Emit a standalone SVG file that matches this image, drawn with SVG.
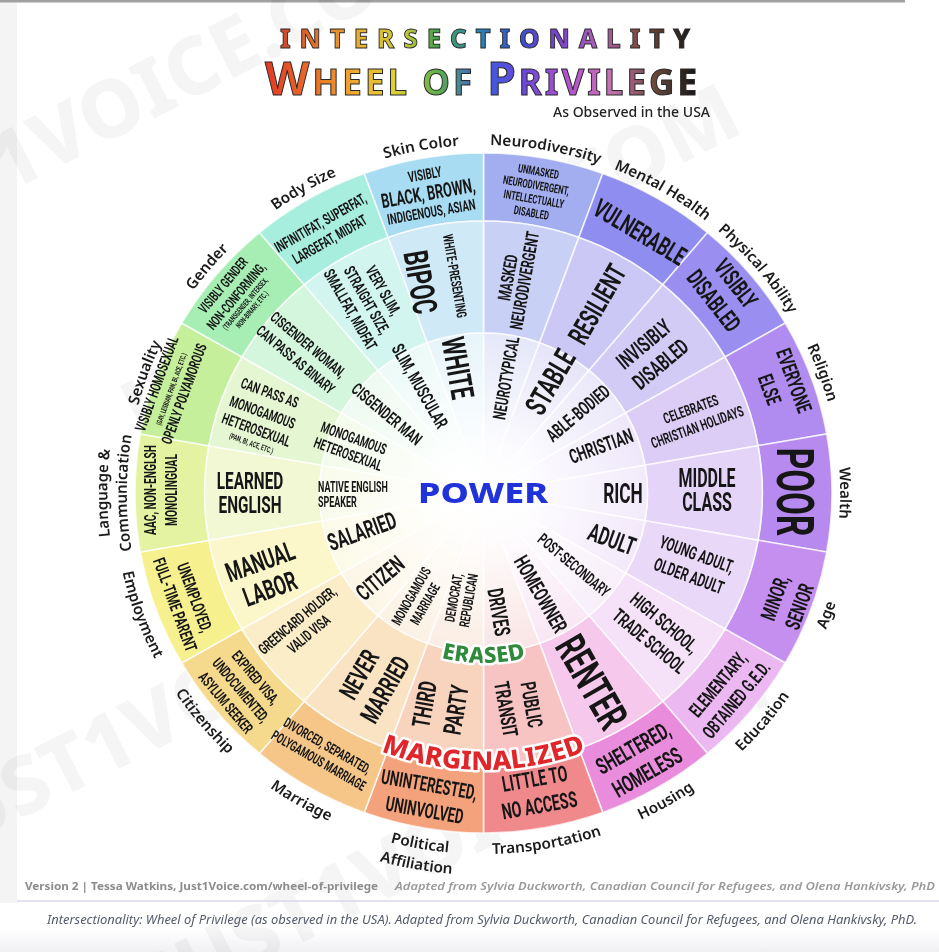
<svg xmlns="http://www.w3.org/2000/svg" width="939" height="952" viewBox="0 0 939 952">
<defs>
  <style>
    .cat{font-family:"Noto Sans","Open Sans",sans-serif;font-size:15px;font-weight:600;fill:#1b1b1b;text-anchor:middle}
    .lb text{font-family:Roboto,"Liberation Sans",sans-serif;font-weight:700;fill:#161616;text-anchor:middle}
    .sec path{stroke:#ffffff;stroke-width:1.6;stroke-opacity:.75}
    .lvl{font-family:"Noto Sans","Open Sans",sans-serif;font-weight:800;text-anchor:middle;stroke:#ffffff;stroke-width:5;stroke-linejoin:round;paint-order:stroke}
    .wm{font-family:"Noto Sans",sans-serif;font-weight:800;font-size:80px;fill:#000}
  </style>
  <radialGradient id="glow" gradientUnits="userSpaceOnUse" cx="0" cy="0" r="160">
    <stop offset="0" stop-color="#fff" stop-opacity="1"/>
    <stop offset=".3" stop-color="#fff" stop-opacity=".9"/>
    <stop offset=".65" stop-color="#fff" stop-opacity=".5"/>
    <stop offset="1" stop-color="#fff" stop-opacity=".1"/>
  </radialGradient>
  <linearGradient id="rb1" gradientUnits="userSpaceOnUse" x1="280" y1="0" x2="690" y2="0">
    <stop offset="0" stop-color="#c9452c"/>
    <stop offset=".1" stop-color="#e5782c"/>
    <stop offset=".2" stop-color="#e9b232"/>
    <stop offset=".3" stop-color="#c9cc38"/>
    <stop offset=".38" stop-color="#4aa24a"/>
    <stop offset=".48" stop-color="#2a86b0"/>
    <stop offset=".58" stop-color="#3850cc"/>
    <stop offset=".68" stop-color="#7a42cc"/>
    <stop offset=".78" stop-color="#b060b4"/>
    <stop offset=".88" stop-color="#7a4a3a"/>
    <stop offset="1" stop-color="#1c1c1c"/>
  </linearGradient>
  <linearGradient id="rb2" gradientUnits="userSpaceOnUse" x1="265" y1="0" x2="697" y2="0">
    <stop offset="0" stop-color="#e23a26"/>
    <stop offset=".12" stop-color="#ea7428"/>
    <stop offset=".22" stop-color="#f0b030"/>
    <stop offset=".3" stop-color="#dcd034"/>
    <stop offset=".4" stop-color="#5cb048"/>
    <stop offset=".5" stop-color="#3a5cdc"/>
    <stop offset=".6" stop-color="#6a48da"/>
    <stop offset=".7" stop-color="#b452d2"/>
    <stop offset=".8" stop-color="#c672b2"/>
    <stop offset=".9" stop-color="#6a4a3a"/>
    <stop offset="1" stop-color="#141414"/>
  </linearGradient>
  <linearGradient id="foot" x1="0" y1="0" x2="0" y2="1">
    <stop offset="0" stop-color="#ffffff"/>
    <stop offset="1" stop-color="#f0f0f3"/>
  </linearGradient>
  <!-- baseline circles for the category names and the level words -->
  <path id="arcTop" d="M0,348 A348,348 0 1 1 0,-348 A348,348 0 1 1 0,348"/>
  <path id="arcTop2" d="M0,367 A367,367 0 1 1 0,-367 A367,367 0 1 1 0,367"/>
  <path id="arcBot" d="M0,-361 A361,361 0 1 0 0,361 A361,361 0 1 0 0,-361"/>
  <path id="arcBot2" d="M0,-382 A382,382 0 1 0 0,382 A382,382 0 1 0 0,-382"/>
  <path id="arcErased" d="M0,-170 A170,170 0 1 0 0,170 A170,170 0 1 0 0,-170"/>
  <path id="arcMarg" d="M0,-277 A277,277 0 1 0 0,277 A277,277 0 1 0 0,-277"/>
</defs>

<rect width="939" height="952" fill="#ffffff"/>
<rect x="0" y="0" width="17" height="903" fill="#f4f4f4"/>
<rect x="0" y="0" width="905" height="2.5" fill="#a0a0a0"/>
<rect x="0" y="930" width="939" height="22" fill="url(#foot)"/>

<!-- faint site watermark -->
<g id="watermark" opacity=".04">
  <text class="wm" transform="translate(-153 275) rotate(-27)">JUST1VOICE.COM</text>
  <text class="wm" transform="translate(140 440) rotate(-27)">JUST1VOICE.COM</text>
  <text class="wm" transform="translate(170 1010) rotate(-27)">JUST1VOICE.COM</text>
  <text class="wm" transform="translate(-60 860) rotate(-27)">JUST1VOICE.COM</text>
</g>

<!-- title -->
<g id="title">
  <text x="280" y="48" font-family="'Noto Sans',sans-serif" font-size="26" font-weight="800" fill="url(#rb1)" stroke="#2a2a2a" stroke-width=".9" textLength="410" lengthAdjust="spacing">INTERSECTIONALITY</text>
  <text x="265" y="95" font-family="'Noto Sans',sans-serif" font-weight="700" fill="url(#rb2)" stroke="#2a2a2a" stroke-width="1" textLength="432" lengthAdjust="spacing"><tspan font-size="46">W</tspan><tspan font-size="35">HEEL OF </tspan><tspan font-size="46">P</tspan><tspan font-size="35">RIVILEGE</tspan></text>
  <text x="710" y="117" text-anchor="end" font-family="'Noto Sans',sans-serif" font-size="14" font-weight="500" fill="#222">As Observed in the USA</text>
</g>

<!-- wheel sectors: outer, middle, inner ring of each category -->
<g id="wheel" transform="translate(483.5 493) scale(1.025 1)">
  <g id="seg-neurodiversity" class="sec">
    <path fill="#a2aef0" d="M0,-340 A340,340 0 0 1 116.29,-319.5 L93.03,-255.6 A272,272 0 0 0 0,-272Z"/>
    <path fill="#c9d0f5" d="M0,-272 A272,272 0 0 1 93.03,-255.6 L54.72,-150.35 A160,160 0 0 0 0,-160Z"/>
    <path fill="#e2e5f8" d="M0,0 L0,-160 A160,160 0 0 1 54.72,-150.35Z"/>
    <text class="cat"><textPath href="#arcTop" startOffset="52.78%">Neurodiversity</textPath></text>
  </g>
  <g id="seg-mental-health" class="sec">
    <path fill="#8f8df0" d="M116.29,-319.5 A340,340 0 0 1 218.55,-260.45 L174.84,-208.36 A272,272 0 0 0 93.03,-255.6Z"/>
    <path fill="#cbc8f5" d="M93.03,-255.6 A272,272 0 0 1 174.84,-208.36 L102.85,-122.57 A160,160 0 0 0 54.72,-150.35Z"/>
    <path fill="#e3e1f7" d="M0,0 L54.72,-150.35 A160,160 0 0 1 102.85,-122.57Z"/>
    <text class="cat"><textPath href="#arcTop" startOffset="58.33%">Mental Health</textPath></text>
  </g>
  <g id="seg-physical-ability" class="sec">
    <path fill="#9a8ef0" d="M218.55,-260.45 A340,340 0 0 1 294.45,-170 L235.56,-136 A272,272 0 0 0 174.84,-208.36Z"/>
    <path fill="#d2cbf6" d="M174.84,-208.36 A272,272 0 0 1 235.56,-136 L138.56,-80 A160,160 0 0 0 102.85,-122.57Z"/>
    <path fill="#e9e5f9" d="M0,0 L102.85,-122.57 A160,160 0 0 1 138.56,-80Z"/>
    <text class="cat"><textPath href="#arcTop" startOffset="63.89%">Physical Ability</textPath></text>
  </g>
  <g id="seg-religion" class="sec">
    <path fill="#b08cf0" d="M294.45,-170 A340,340 0 0 1 334.84,-59.04 L267.87,-47.23 A272,272 0 0 0 235.56,-136Z"/>
    <path fill="#dccdf7" d="M235.56,-136 A272,272 0 0 1 267.87,-47.23 L157.57,-27.78 A160,160 0 0 0 138.56,-80Z"/>
    <path fill="#ece4fa" d="M0,0 L138.56,-80 A160,160 0 0 1 157.57,-27.78Z"/>
    <text class="cat"><textPath href="#arcTop" startOffset="69.44%">Religion</textPath></text>
  </g>
  <g id="seg-wealth" class="sec">
    <path fill="#b78af0" d="M334.84,-59.04 A340,340 0 0 1 334.84,59.04 L267.87,47.23 A272,272 0 0 0 267.87,-47.23Z"/>
    <path fill="#e4d4f8" d="M267.87,-47.23 A272,272 0 0 1 267.87,47.23 L157.57,27.78 A160,160 0 0 0 157.57,-27.78Z"/>
    <path fill="#f0e8fb" d="M0,0 L157.57,-27.78 A160,160 0 0 1 157.57,27.78Z"/>
    <text class="cat"><textPath href="#arcTop" startOffset="75%">Wealth</textPath></text>
  </g>
  <g id="seg-age" class="sec">
    <path fill="#c58ff0" d="M334.84,59.04 A340,340 0 0 1 294.45,170 L235.56,136 A272,272 0 0 0 267.87,47.23Z"/>
    <path fill="#ead8f8" d="M267.87,47.23 A272,272 0 0 1 235.56,136 L138.56,80 A160,160 0 0 0 157.57,27.78Z"/>
    <path fill="#f1e6fa" d="M0,0 L157.57,27.78 A160,160 0 0 1 138.56,80Z"/>
    <text class="cat"><textPath href="#arcBot" startOffset="69.44%">Age</textPath></text>
  </g>
  <g id="seg-education" class="sec">
    <path fill="#ebb8f2" d="M294.45,170 A340,340 0 0 1 218.55,260.45 L174.84,208.36 A272,272 0 0 0 235.56,136Z"/>
    <path fill="#f6e2f8" d="M235.56,136 A272,272 0 0 1 174.84,208.36 L102.85,122.57 A160,160 0 0 0 138.56,80Z"/>
    <path fill="#f7edf9" d="M0,0 L138.56,80 A160,160 0 0 1 102.85,122.57Z"/>
    <text class="cat"><textPath href="#arcBot" startOffset="63.89%">Education</textPath></text>
  </g>
  <g id="seg-housing" class="sec">
    <path fill="#ea8cdc" d="M218.55,260.45 A340,340 0 0 1 116.29,319.5 L93.03,255.6 A272,272 0 0 0 174.84,208.36Z"/>
    <path fill="#f5c8ec" d="M174.84,208.36 A272,272 0 0 1 93.03,255.6 L54.72,150.35 A160,160 0 0 0 102.85,122.57Z"/>
    <path fill="#f8e4f3" d="M0,0 L102.85,122.57 A160,160 0 0 1 54.72,150.35Z"/>
    <text class="cat"><textPath href="#arcBot" startOffset="58.33%">Housing</textPath></text>
  </g>
  <g id="seg-transportation" class="sec">
    <path fill="#f0898c" d="M116.29,319.5 A340,340 0 0 1 0,340 L0,272 A272,272 0 0 0 93.03,255.6Z"/>
    <path fill="#f7c3c3" d="M93.03,255.6 A272,272 0 0 1 0,272 L0,160 A160,160 0 0 0 54.72,150.35Z"/>
    <path fill="#f9e2e2" d="M0,0 L54.72,150.35 A160,160 0 0 1 0,160Z"/>
    <text class="cat"><textPath href="#arcBot" startOffset="52.78%">Transportation</textPath></text>
  </g>
  <g id="seg-political-affiliation" class="sec">
    <path fill="#f4a27c" d="M0,340 A340,340 0 0 1 -116.29,319.5 L-93.03,255.6 A272,272 0 0 0 0,272Z"/>
    <path fill="#f8d3bd" d="M0,272 A272,272 0 0 1 -93.03,255.6 L-54.72,150.35 A160,160 0 0 0 0,160Z"/>
    <path fill="#faebe0" d="M0,0 L0,160 A160,160 0 0 1 -54.72,150.35Z"/>
    <text class="cat"><textPath href="#arcBot" startOffset="47.22%">Political</textPath></text>
    <text class="cat"><textPath href="#arcBot2" startOffset="47.22%">Affiliation</textPath></text>
  </g>
  <g id="seg-marriage" class="sec">
    <path fill="#f5c687" d="M-116.29,319.5 A340,340 0 0 1 -218.55,260.45 L-174.84,208.36 A272,272 0 0 0 -93.03,255.6Z"/>
    <path fill="#f9e3c3" d="M-93.03,255.6 A272,272 0 0 1 -174.84,208.36 L-102.85,122.57 A160,160 0 0 0 -54.72,150.35Z"/>
    <path fill="#fbf0e1" d="M0,0 L-54.72,150.35 A160,160 0 0 1 -102.85,122.57Z"/>
    <text class="cat"><textPath href="#arcBot" startOffset="41.67%">Marriage</textPath></text>
  </g>
  <g id="seg-citizenship" class="sec">
    <path fill="#f5d98c" d="M-218.55,260.45 A340,340 0 0 1 -294.45,170 L-235.56,136 A272,272 0 0 0 -174.84,208.36Z"/>
    <path fill="#fbedc8" d="M-174.84,208.36 A272,272 0 0 1 -235.56,136 L-138.56,80 A160,160 0 0 0 -102.85,122.57Z"/>
    <path fill="#fcf5e3" d="M0,0 L-102.85,122.57 A160,160 0 0 1 -138.56,80Z"/>
    <text class="cat"><textPath href="#arcBot" startOffset="36.11%">Citizenship</textPath></text>
  </g>
  <g id="seg-employment" class="sec">
    <path fill="#f7f08e" d="M-294.45,170 A340,340 0 0 1 -334.84,59.04 L-267.87,47.23 A272,272 0 0 0 -235.56,136Z"/>
    <path fill="#fbf7cb" d="M-235.56,136 A272,272 0 0 1 -267.87,47.23 L-157.57,27.78 A160,160 0 0 0 -138.56,80Z"/>
    <path fill="#fcfae6" d="M0,0 L-138.56,80 A160,160 0 0 1 -157.57,27.78Z"/>
    <text class="cat"><textPath href="#arcBot" startOffset="30.56%">Employment</textPath></text>
  </g>
  <g id="seg-language" class="sec">
    <path fill="#e4f3a2" d="M-334.84,59.04 A340,340 0 0 1 -334.84,-59.04 L-267.87,-47.23 A272,272 0 0 0 -267.87,47.23Z"/>
    <path fill="#f2f8d3" d="M-267.87,47.23 A272,272 0 0 1 -267.87,-47.23 L-157.57,-27.78 A160,160 0 0 0 -157.57,27.78Z"/>
    <path fill="#f8fbe9" d="M0,0 L-157.57,27.78 A160,160 0 0 1 -157.57,-27.78Z"/>
    <text class="cat"><textPath href="#arcTop2" startOffset="25%">Language &amp;</textPath></text>
    <text class="cat"><textPath href="#arcTop" startOffset="25%">Communication</textPath></text>
  </g>
  <g id="seg-sexuality" class="sec">
    <path fill="#c6ef9c" d="M-334.84,-59.04 A340,340 0 0 1 -294.45,-170 L-235.56,-136 A272,272 0 0 0 -267.87,-47.23Z"/>
    <path fill="#e5f7d2" d="M-267.87,-47.23 A272,272 0 0 1 -235.56,-136 L-138.56,-80 A160,160 0 0 0 -157.57,-27.78Z"/>
    <path fill="#f2fbe9" d="M0,0 L-157.57,-27.78 A160,160 0 0 1 -138.56,-80Z"/>
    <text class="cat"><textPath href="#arcTop" startOffset="30.56%">Sexuality</textPath></text>
  </g>
  <g id="seg-gender" class="sec">
    <path fill="#a6eeb4" d="M-294.45,-170 A340,340 0 0 1 -218.55,-260.45 L-174.84,-208.36 A272,272 0 0 0 -235.56,-136Z"/>
    <path fill="#d4f6dd" d="M-235.56,-136 A272,272 0 0 1 -174.84,-208.36 L-102.85,-122.57 A160,160 0 0 0 -138.56,-80Z"/>
    <path fill="#ecfaf0" d="M0,0 L-138.56,-80 A160,160 0 0 1 -102.85,-122.57Z"/>
    <text class="cat"><textPath href="#arcTop" startOffset="36.11%">Gender</textPath></text>
  </g>
  <g id="seg-body-size" class="sec">
    <path fill="#a8eede" d="M-218.55,-260.45 A340,340 0 0 1 -116.29,-319.5 L-93.03,-255.6 A272,272 0 0 0 -174.84,-208.36Z"/>
    <path fill="#d2f6ef" d="M-174.84,-208.36 A272,272 0 0 1 -93.03,-255.6 L-54.72,-150.35 A160,160 0 0 0 -102.85,-122.57Z"/>
    <path fill="#eafaf7" d="M0,0 L-102.85,-122.57 A160,160 0 0 1 -54.72,-150.35Z"/>
    <text class="cat"><textPath href="#arcTop" startOffset="41.67%">Body Size</textPath></text>
  </g>
  <g id="seg-skin-color" class="sec">
    <path fill="#a8dcf2" d="M-116.29,-319.5 A340,340 0 0 1 0,-340 L0,-272 A272,272 0 0 0 -93.03,-255.6Z"/>
    <path fill="#cfeaf6" d="M-93.03,-255.6 A272,272 0 0 1 0,-272 L0,-160 A160,160 0 0 0 -54.72,-150.35Z"/>
    <path fill="#e4f3f9" d="M0,0 L-54.72,-150.35 A160,160 0 0 1 0,-160Z"/>
    <text class="cat"><textPath href="#arcTop" startOffset="47.22%">Skin Color</textPath></text>
  </g>
  <!-- white bloom over the centre disc -->
  <circle r="160" fill="url(#glow)"/>
</g>

<!-- ring texts, one group per category -->
<g id="labels" class="lb">
  <g id="lbl-skin-color">
    <g transform="translate(428 193) rotate(-10) scale(.64 1)"><text y="-13.7" font-size="15">VISIBLY</text><text y="7.1" font-size="20">BLACK, BROWN,</text><text y="24.3" font-size="15">INDIGENOUS, ASIAN</text></g>
    <g transform="translate(455 276) rotate(80) scale(.64 1)"><text y="5" font-size="14">WHITE-PRESENTING</text><text y="47" font-size="34">BIPOC</text></g>
    <g transform="translate(458 368) rotate(80) scale(.64 1)"><text y="11.4" font-size="32">WHITE</text></g>
  </g>
  <g id="lbl-neurodiversity">
    <g transform="translate(535 192) rotate(10) scale(.64 1)"><text y="-16.7" font-size="12">UNMASKED</text><text y="-2.7" font-size="12">NEURODIVERGENT,</text><text y="11.3" font-size="12">INTELLECTUALLY</text><text y="25.3" font-size="12">DISABLED</text></g>
    <g transform="translate(516 279) rotate(-80) scale(.64 1)"><text y="-2.1" font-size="18">MASKED</text><text y="14.9" font-size="18">NEURODIVERGENT</text></g>
    <g transform="translate(506 378) rotate(-80) scale(.64 1)"><text y="6.4" font-size="18">NEUROTYPICAL</text></g>
  </g>
  <g id="lbl-mental-health">
    <g transform="translate(640 232) rotate(31) scale(.64 1)"><text y="9.2" font-size="26">VULNERABLE</text></g>
    <g transform="translate(597 304) rotate(-60) scale(.64 1)"><text y="10" font-size="28">RESILIENT</text></g>
    <g transform="translate(550 382) rotate(-60) scale(.64 1)"><text y="10.7" font-size="30">STABLE</text></g>
  </g>
  <g id="lbl-physical-ability">
    <g transform="translate(725 292) rotate(52) scale(.64 1)"><text y="-5.5" font-size="24">VISIBLY</text><text y="22.5" font-size="24">DISABLED</text></g>
    <g transform="translate(652 354) rotate(-40) scale(.64 1)"><text y="-5.2" font-size="22">INVISIBLY</text><text y="20.8" font-size="22">DISABLED</text></g>
    <g transform="translate(578 413) rotate(-40) scale(.64 1)"><text y="6.7" font-size="19">ABLE-BODIED</text></g>
  </g>
  <g id="lbl-religion">
    <g transform="translate(782 385) rotate(70) scale(.64 1)"><text y="-5.5" font-size="21">EVERYONE</text><text y="20.5" font-size="21">ELSE</text></g>
    <g transform="translate(694 418) rotate(-20) scale(.64 1)"><text y="-4.2" font-size="15">CELEBRATES</text><text y="14.8" font-size="15">CHRISTIAN HOLIDAYS</text></g>
    <g transform="translate(601 446) rotate(-20) scale(.64 1)"><text y="7.1" font-size="20">CHRISTIAN</text></g>
  </g>
  <g id="lbl-wealth">
    <g transform="translate(796 492) rotate(90) scale(.64 1)"><text y="18.5" font-size="52">POOR</text></g>
    <g transform="translate(707 490) scale(.64 1)"><text y="-3.1" font-size="25">MIDDLE</text><text y="20.9" font-size="25">CLASS</text></g>
    <g transform="translate(623 493) scale(.64 1)"><text y="9.6" font-size="27">RICH</text></g>
  </g>
  <g id="lbl-age">
    <g transform="translate(787 602) rotate(-70) scale(.64 1)"><text y="-5.5" font-size="21">MINOR,</text><text y="20.5" font-size="21">SENIOR</text></g>
    <g transform="translate(693 565) rotate(20) scale(.64 1)"><text y="-5.1" font-size="18">YOUNG ADULT,</text><text y="17.9" font-size="18">OLDER ADULT</text></g>
    <g transform="translate(612 539) rotate(20) scale(.64 1)"><text y="8.9" font-size="25">ADULT</text></g>
  </g>
  <g id="lbl-education">
    <g transform="translate(727 692) rotate(-50) scale(.64 1)"><text y="-5.3" font-size="19">ELEMENTARY,</text><text y="18.7" font-size="19">OBTAINED G.E.D.</text></g>
    <g transform="translate(657 632) rotate(40) scale(.64 1)"><text y="-5.3" font-size="19">HIGH SCHOOL,</text><text y="18.7" font-size="19">TRADE SCHOOL</text></g>
    <g transform="translate(574 565) rotate(40) scale(.64 1)"><text y="5.7" font-size="16">POST-SECONDARY</text></g>
  </g>
  <g id="lbl-housing">
    <g transform="translate(640 760) rotate(-30) scale(.64 1)"><text y="-5.8" font-size="23">SHELTERED,</text><text y="22.2" font-size="23">HOMELESS</text></g>
    <g transform="translate(592 682) rotate(60) scale(.64 1)"><text y="14.9" font-size="42">RENTER</text></g>
    <g transform="translate(541 594) rotate(60) scale(.64 1)"><text y="7.5" font-size="21">HOMEOWNER</text></g>
  </g>
  <g id="lbl-transportation">
    <g transform="translate(537 792) rotate(-10) scale(.64 1)"><text y="-5.7" font-size="22">LITTLE TO</text><text y="21.3" font-size="22">NO ACCESS</text></g>
    <g transform="translate(519 707) rotate(80) scale(.64 1)"><text y="-5.5" font-size="21">PUBLIC</text><text y="20.5" font-size="21">TRANSIT</text></g>
    <g transform="translate(499 612) rotate(80) scale(.64 1)"><text y="7.8" font-size="22">DRIVES</text></g>
  </g>
  <g id="lbl-political-affiliation">
    <g transform="translate(427 797) rotate(10) scale(.64 1)"><text y="-5.5" font-size="20.5">UNINTERESTED,</text><text y="20.5" font-size="20.5">UNINVOLVED</text></g>
    <g transform="translate(440 707) rotate(-80) scale(.64 1)"><text y="-7.1" font-size="25">THIRD</text><text y="24.9" font-size="25">PARTY</text></g>
    <g transform="translate(461 599) rotate(-80) scale(.64 1)"><text y="-2.5" font-size="14">DEMOCRAT,</text><text y="12.5" font-size="14">REPUBLICAN</text></g>
  </g>
  <g id="lbl-marriage">
    <g transform="translate(323 753) rotate(30) scale(.64 1)"><text y="-3.5" font-size="14">DIVORCED, SEPARATED,</text><text y="13.5" font-size="14">POLYGAMOUS MARRIAGE</text></g>
    <g transform="translate(372 682) rotate(-60) scale(.64 1)"><text y="-5.8" font-size="26">NEVER</text><text y="24.2" font-size="26">MARRIED</text></g>
    <g transform="translate(418 600) rotate(-60) scale(.64 1)"><text y="-3" font-size="14">MONOGAMOUS</text><text y="13" font-size="14">MARRIAGE</text></g>
  </g>
  <g id="lbl-citizenship">
    <g transform="translate(241 690) rotate(50) scale(.64 1)"><text y="-14" font-size="15">EXPIRED VISA,</text><text y="5.5" font-size="15">UNDOCUMENTED,</text><text y="25" font-size="15">ASYLUM SEEKER</text></g>
    <g transform="translate(303 627) rotate(-40) scale(.64 1)"><text y="-3.7" font-size="15">GREENCARD HOLDER,</text><text y="14.3" font-size="15">VALID VISA</text></g>
    <g transform="translate(380 578) rotate(-40) scale(.64 1)"><text y="8.2" font-size="23">CITIZEN</text></g>
  </g>
  <g id="lbl-employment">
    <g transform="translate(185 601) rotate(70) scale(.64 1)"><text y="-4.5" font-size="17">UNEMPLOYED,</text><text y="16.5" font-size="17">FULL-TIME PARENT</text></g>
    <g transform="translate(265 575) rotate(-20) scale(.64 1)"><text y="-4.9" font-size="27">MANUAL</text><text y="24.1" font-size="27">LABOR</text></g>
    <g transform="translate(362 531) rotate(-20) scale(.64 1)"><text y="8.5" font-size="24">SALARIED</text></g>
  </g>
  <g id="lbl-language">
    <g transform="translate(161 490) rotate(-90) scale(.64 1)"><text y="-4.8" font-size="16">AAC, NON-ENGLSH</text><text y="16.2" font-size="16">MONOLINGUAL</text></g>
    <g transform="translate(250 490) scale(.64 1)"><text y="-1" font-size="24">LEARNED</text><text y="23" font-size="24">ENGLISH</text></g>
    <g transform="translate(318 0) scale(.64 1)"><text x="0" y="492" font-size="14" style="text-anchor:start">NATIVE ENGLISH</text><text x="0" y="507" font-size="14" style="text-anchor:start">SPEAKER</text></g>
  </g>
  <g id="lbl-sexuality">
    <g transform="translate(171 389) rotate(-70) scale(.64 1)"><text y="-10" font-size="15">VISIBLY HOMOSEXUAL</text><text y="3" font-size="7.5">(GAY, LESBIAN, PAN, BI, ACE, ETC.)</text><text y="19" font-size="15">OPENLY POLYAMOROUS</text></g>
    <g transform="translate(262 414) rotate(20) scale(.64 1)"><text y="-17.4" font-size="15">CAN PASS AS</text><text y="3.4" font-size="15">MONOGAMOUS</text><text y="22" font-size="15">HETEROSEXUAL</text><text y="34" font-size="8">(PAN, BI, ACE, ETC.)</text></g>
    <g transform="translate(351 446) rotate(20) scale(.64 1)"><text y="-3.2" font-size="15">MONOGAMOUS</text><text y="13.8" font-size="15">HETEROSEXUAL</text></g>
  </g>
  <g id="lbl-gender">
    <g transform="translate(236 296) rotate(-50) scale(.64 1)"><text y="-12" font-size="14">VISIBLY GENDER</text><text y="5" font-size="14">NON-CONFORMING,</text><text y="14.8" font-size="8">(TRANSGENDER, INTERSEX,</text><text y="23.8" font-size="8">NON-BINARY, ETC.)</text></g>
    <g transform="translate(302 352) rotate(40) scale(.64 1)"><text y="-4.3" font-size="15">CISGENDER WOMAN,</text><text y="15.2" font-size="15">CAN PASS AS BINARY</text></g>
    <g transform="translate(387 414) rotate(40) scale(.64 1)"><text y="6" font-size="17">CISGENDER MAN</text></g>
  </g>
  <g id="lbl-body-size">
    <g transform="translate(325 231) rotate(-30) scale(.64 1)"><text y="-4.2" font-size="15">INFINITIFAT, SUPERFAT,</text><text y="14.8" font-size="15">LARGEFAT, MIDFAT</text></g>
    <g transform="translate(367 300) rotate(60) scale(.64 1)"><text y="-13.3" font-size="16">VERY SLIM,</text><text y="5.7" font-size="16">STRAIGHT SIZE,</text><text y="24.7" font-size="16">SMALLFAT, MIDFAT</text></g>
    <g transform="translate(420 386) rotate(60) scale(.64 1)"><text y="6.4" font-size="18">SLIM, MUSCULAR</text></g>
  </g>
</g>

<!-- level words -->
<g id="levels">
  <text class="lvl" x="483" y="503" font-size="29" fill="#1f33d8" textLength="130" lengthAdjust="spacingAndGlyphs">POWER</text>
  <g transform="translate(483.5 493) scale(1.025 1)">
    <text class="lvl" font-size="22" fill="#2f8a3c"><textPath href="#arcErased" startOffset="50%">ERASED</textPath></text>
    <text class="lvl" font-size="26" fill="#e0262b"><textPath href="#arcMarg" startOffset="50%">MARGINALIZED</textPath></text>
  </g>
</g>

<!-- credits and caption -->
<g id="footer">
  <text x="25" y="890" font-family="'Noto Sans',sans-serif" font-size="11" font-weight="700" fill="#8c8c8c" textLength="353" lengthAdjust="spacingAndGlyphs">Version 2 | Tessa Watkins, Just1Voice.com/wheel-of-privilege</text>
  <text x="935" y="890" text-anchor="end" font-family="'Noto Sans',sans-serif" font-size="11" font-weight="600" font-style="italic" fill="#9a9a9a" textLength="540" lengthAdjust="spacingAndGlyphs">Adapted from Sylvia Duckworth, Canadian Council for Refugees, and Olena Hankivsky, PhD</text>
  <line x1="17" y1="901" x2="939" y2="901" stroke="#d8d8e8" stroke-width="1.5"/>
  <text x="47" y="924" font-family="'Noto Sans',sans-serif" font-size="13" font-style="italic" fill="#555a6e" textLength="870" lengthAdjust="spacingAndGlyphs">Intersectionality: Wheel of Privilege (as observed in the USA). Adapted from Sylvia Duckworth, Canadian Council for Refugees, and Olena Hankivsky, PhD.</text>
</g>
</svg>
